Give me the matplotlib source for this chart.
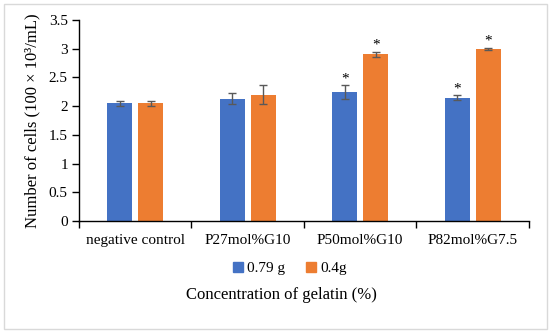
import numpy as np
import matplotlib.pyplot as plt
from matplotlib.patches import Rectangle
from matplotlib.lines import Line2D

categories = ['negative control', 'P27mol%G10', 'P50mol%G10', 'P82mol%G7.5']
series_names = ['0.79 g', '0.4g']
vals_079 = [2.05, 2.13, 2.24, 2.15]
err_079 = [0.04, 0.10, 0.12, 0.04]
vals_04 = [2.05, 2.20, 2.90, 3.00]
err_04 = [0.04, 0.16, 0.05, 0.02]
star_079 = [False, False, True, True]
star_04 = [False, False, True, True]

plt.rcParams['font.family'] = ['Liberation Serif', 'DejaVu Serif']

fig = plt.figure(figsize=(5.5, 3.33), dpi=100)
fig.patches.append(Rectangle((0.008, 0.012), 0.986, 0.976, transform=fig.transFigure,
                             fill=False, edgecolor='#d9d9d9', linewidth=1.0))
ax = fig.add_axes([0.1436, 0.336, 0.818, 0.604])

x = np.arange(len(categories))
w = 0.222
off = 0.138
blue = '#4472C4'
orange = '#ED7D31'
ecol = '#595959'

ax.bar(x - off, vals_079, w, color=blue, yerr=err_079,
       error_kw=dict(ecolor=ecol, capsize=3, elinewidth=1, capthick=1))
ax.bar(x + off, vals_04, w, color=orange, yerr=err_04,
       error_kw=dict(ecolor=ecol, capsize=3, elinewidth=1, capthick=1))

for i in range(len(categories)):
    if star_079[i]:
        ax.annotate('*', (x[i] - off, vals_079[i] + err_079[i]), xytext=(0, 0),
                    textcoords='offset points', ha='center', va='bottom', fontsize=11)
    if star_04[i]:
        ax.annotate('*', (x[i] + off, vals_04[i] + err_04[i]), xytext=(0, 0),
                    textcoords='offset points', ha='center', va='bottom', fontsize=11)

ax.set_xlim(-0.5, len(categories) - 0.5)
ax.set_ylim(0, 3.5)
ax.set_yticks(np.arange(0, 3.51, 0.5))
ax.set_yticklabels(['0', '0.5', '1', '1.5', '2', '2.5', '3', '3.5'], fontsize=11)
ax.set_xticks(x)
ax.set_xticklabels(categories, fontsize=11)
ax.set_xticks(np.arange(-0.5, len(categories)), minor=True)
ax.tick_params(axis='x', which='major', length=0, pad=9)
ax.tick_params(axis='x', which='minor', length=5, width=1, color='black')
ax.tick_params(axis='y', length=5, width=1, pad=3)

for s in ['top', 'right']:
    ax.spines[s].set_visible(False)
ax.spines['left'].set_linewidth(1)
ax.spines['bottom'].set_linewidth(1)

ax.set_ylabel('Number of cells (100 × 10³/mL)', fontsize=12, labelpad=6)

handles = [Line2D([], [], marker='s', linestyle='', color=blue, markersize=7),
           Line2D([], [], marker='s', linestyle='', color=orange, markersize=7)]
fig.legend(handles, series_names, loc='center', bbox_to_anchor=(0.525, 0.195),
           ncol=2, frameon=False, fontsize=11, handletextpad=0.1, columnspacing=1.2,
           handlelength=1)
fig.text(0.511, 0.113, 'Concentration of gelatin (%)', ha='center', va='center', fontsize=12)

fig.savefig('out.png', dpi=100)
